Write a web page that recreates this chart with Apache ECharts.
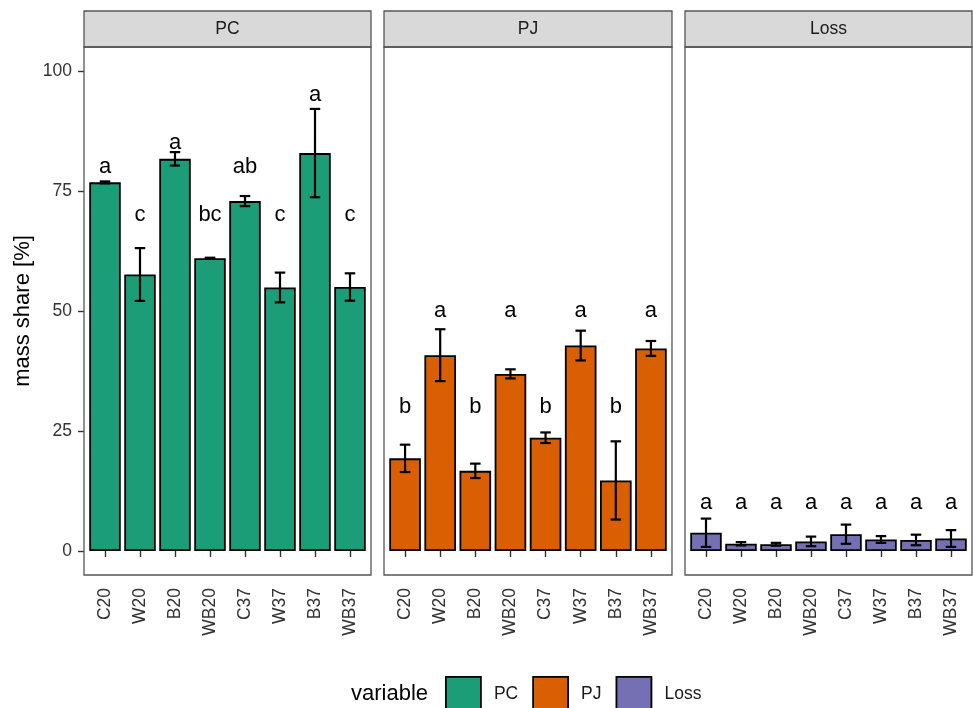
<!DOCTYPE html>
<html>
<head>
<meta charset="utf-8">
<script src="https://cdn.jsdelivr.net/npm/echarts@6/dist/echarts.min.js"></script>
<style>
  html, body { margin: 0; padding: 0; background: #ffffff; }
  #chart { width: 973px; height: 708px; }
</style>
</head>
<body>
<div id="chart"></div>
<script>
// Treatments on the x axis of every facet
const categories = ['C20', 'W20', 'B20', 'WB20', 'C37', 'W37', 'B37', 'WB37'];
const panelNames = ['PC', 'PJ', 'Loss'];
const yTicks = [0, 25, 50, 75, 100];

// Mean mass share [%] and standard deviation per treatment
const pcMean   = [76.8, 57.6, 81.7, 61.0, 72.9, 54.9, 82.9, 55.0];
const pcSd     = [0.2, 5.5, 1.4, 0.1, 1.05, 3.1, 9.2, 2.85];
const pjMean   = [19.3, 40.8, 16.7, 36.9, 23.6, 42.8, 14.7, 42.2];
const pjSd     = [2.85, 5.4, 1.5, 0.95, 1.1, 3.1, 8.15, 1.55];
const lossMean = [3.8, 1.5, 1.4, 2.0, 3.5, 2.4, 2.3, 2.6];
const lossSd   = [2.95, 0.35, 0.3, 1.0, 2.0, 0.7, 1.1, 1.75];

// Significance letters and the height at which they are printed
const pcLetters   = ['a', 'c', 'a', 'bc', 'ab', 'c', 'a', 'c'];
const pjLetters   = ['b', 'a', 'b', 'a', 'b', 'a', 'b', 'a'];
const lossLetters = ['a', 'a', 'a', 'a', 'a', 'a', 'a', 'a'];
const pcLetterY   = [80, 70, 85, 70, 80, 70, 95, 70];
const pjLetterY   = [30, 50, 30, 50, 30, 50, 30, 50];
const lossLetterY = [10, 10, 10, 10, 10, 10, 10, 10];

const panels = [
  { name: panelNames[0], mean: pcMean,   sd: pcSd,   letters: pcLetters,   letterY: pcLetterY,   color: '#1B9E77' },
  { name: panelNames[1], mean: pjMean,   sd: pjSd,   letters: pjLetters,   letterY: pjLetterY,   color: '#D95F02' },
  { name: panelNames[2], mean: lossMean, sd: lossSd, letters: lossLetters, letterY: lossLetterY, color: '#7570B3' }
];

// Facet frames (panel border boxes) and strip geometry
const frames = [ { x: 84, w: 287 }, { x: 384, w: 288 }, { x: 685, w: 287 } ];
const frameTop = 47, frameH = 528;
const stripTop = 11, stripH = 36;
const inset = 3.5;  // discrete-scale expansion between frame and first/last band

const FONT = '"Liberation Sans", Arial, Helvetica, sans-serif';
const AXIS_TEXT = '#333333';

const chart = echarts.init(document.getElementById('chart'), null, { renderer: 'canvas' });

const grids = [], xAxes = [], yAxes = [], series = [], graphics = [];

function errorBarItem(params, api) {
  const i = api.value(0), m = api.value(1), s = api.value(2);
  const hi = api.coord([i, m + s]);
  const lo = api.coord([i, m - s]);
  const half = api.size([1, 0])[0] * 0.15;
  const st = { stroke: '#000000', lineWidth: 2.2 };
  return {
    type: 'group',
    children: [
      { type: 'line', shape: { x1: hi[0], y1: hi[1], x2: lo[0], y2: lo[1] }, style: st },
      { type: 'line', shape: { x1: hi[0] - half, y1: hi[1], x2: hi[0] + half, y2: hi[1] }, style: st },
      { type: 'line', shape: { x1: lo[0] - half, y1: lo[1], x2: lo[0] + half, y2: lo[1] }, style: st }
    ]
  };
}

panels.forEach((p, k) => {
  const f = frames[k];
  grids.push({ left: f.x + inset, width: f.w - 2 * inset, top: frameTop, height: frameH, containLabel: false });

  xAxes.push({
    gridIndex: k,
    type: 'category',
    data: categories,
    boundaryGap: true,
    axisLine: { show: false },
    axisTick: { show: true, alignWithLabel: true, length: 6, lineStyle: { color: '#333333', width: 1.4 } },
    axisLabel: { rotate: 90, fontSize: 17.5, color: AXIS_TEXT, fontFamily: FONT, margin: 13, interval: 0 },
    splitLine: { show: false }
  });

  yAxes.push({
    gridIndex: k,
    type: 'value',
    min: -5,
    max: 105,
    offset: inset,
    axisLine: { show: false },
    axisTick: { show: k === 0, customValues: yTicks, length: 6, lineStyle: { color: '#333333', width: 1.4 } },
    axisLabel: { show: k === 0, customValues: yTicks, fontSize: 17.5, color: AXIS_TEXT, fontFamily: FONT, margin: 12 },
    splitLine: { show: false },
    name: k === 0 ? 'mass share [%]' : '',
    nameLocation: 'middle',
    nameGap: 50,
    nameTextStyle: { fontSize: 22, color: '#000000', fontFamily: FONT }
  });

  series.push({
    name: p.name,
    type: 'bar',
    xAxisIndex: k,
    yAxisIndex: k,
    data: p.mean,
    barWidth: '90%',
    itemStyle: { color: p.color, borderColor: '#000000', borderWidth: 1.8 },
    z: 2
  });

  series.push({
    type: 'custom',
    xAxisIndex: k,
    yAxisIndex: k,
    data: categories.map((c, i) => [i, p.mean[i], p.sd[i]]),
    encode: { x: 0, y: 1 },
    renderItem: errorBarItem,
    z: 3,
    silent: true
  });

  const letters = p.letters;
  series.push({
    type: 'custom',
    xAxisIndex: k,
    yAxisIndex: k,
    data: categories.map((c, i) => [i, p.letterY[i]]),
    encode: { x: 0, y: 1 },
    renderItem: function (params, api) {
      const pt = api.coord([api.value(0), api.value(1)]);
      return {
        type: 'text',
        x: pt[0],
        y: pt[1],
        style: {
          text: letters[params.dataIndex],
          fill: '#000000',
          font: '22px ' + FONT,
          align: 'center',
          verticalAlign: 'middle'
        }
      };
    },
    z: 4,
    silent: true
  });

  // strip header
  graphics.push({
    type: 'rect',
    shape: { x: f.x, y: stripTop, width: f.w, height: stripH },
    style: { fill: '#D9D9D9', stroke: '#555555', lineWidth: 1.3 },
    z: 10
  });
  graphics.push({
    type: 'text',
    x: f.x + f.w / 2,
    y: stripTop + stripH / 2,
    style: { text: p.name, fill: '#1A1A1A', font: '17.5px ' + FONT, align: 'center', verticalAlign: 'middle' },
    z: 11
  });
  // panel border
  graphics.push({
    type: 'rect',
    shape: { x: f.x, y: frameTop, width: f.w, height: frameH },
    style: { fill: null, stroke: '#555555', lineWidth: 1.3 },
    z: 10,
    silent: true
  });
});

// legend title
graphics.push({
  type: 'text',
  x: 351,
  y: 694,
  style: { text: 'variable', fill: '#000000', font: '22px ' + FONT, align: 'left', verticalAlign: 'middle' },
  z: 11
});

chart.setOption({
  backgroundColor: '#ffffff',
  animation: false,
  grid: grids,
  xAxis: xAxes,
  yAxis: yAxes,
  legend: {
    data: panelNames,
    left: 445,
    top: 676,
    padding: 0,
    orient: 'horizontal',
    icon: 'rect',
    itemWidth: 35,
    itemHeight: 35,
    itemGap: 14,
    itemStyle: { borderColor: '#000000', borderWidth: 1.8 },
    textStyle: { fontSize: 17.5, color: '#1A1A1A', fontFamily: FONT, padding: [0, 0, 0, 8] }
  },
  series: series,
  graphic: graphics
});
</script>
</body>
</html>
